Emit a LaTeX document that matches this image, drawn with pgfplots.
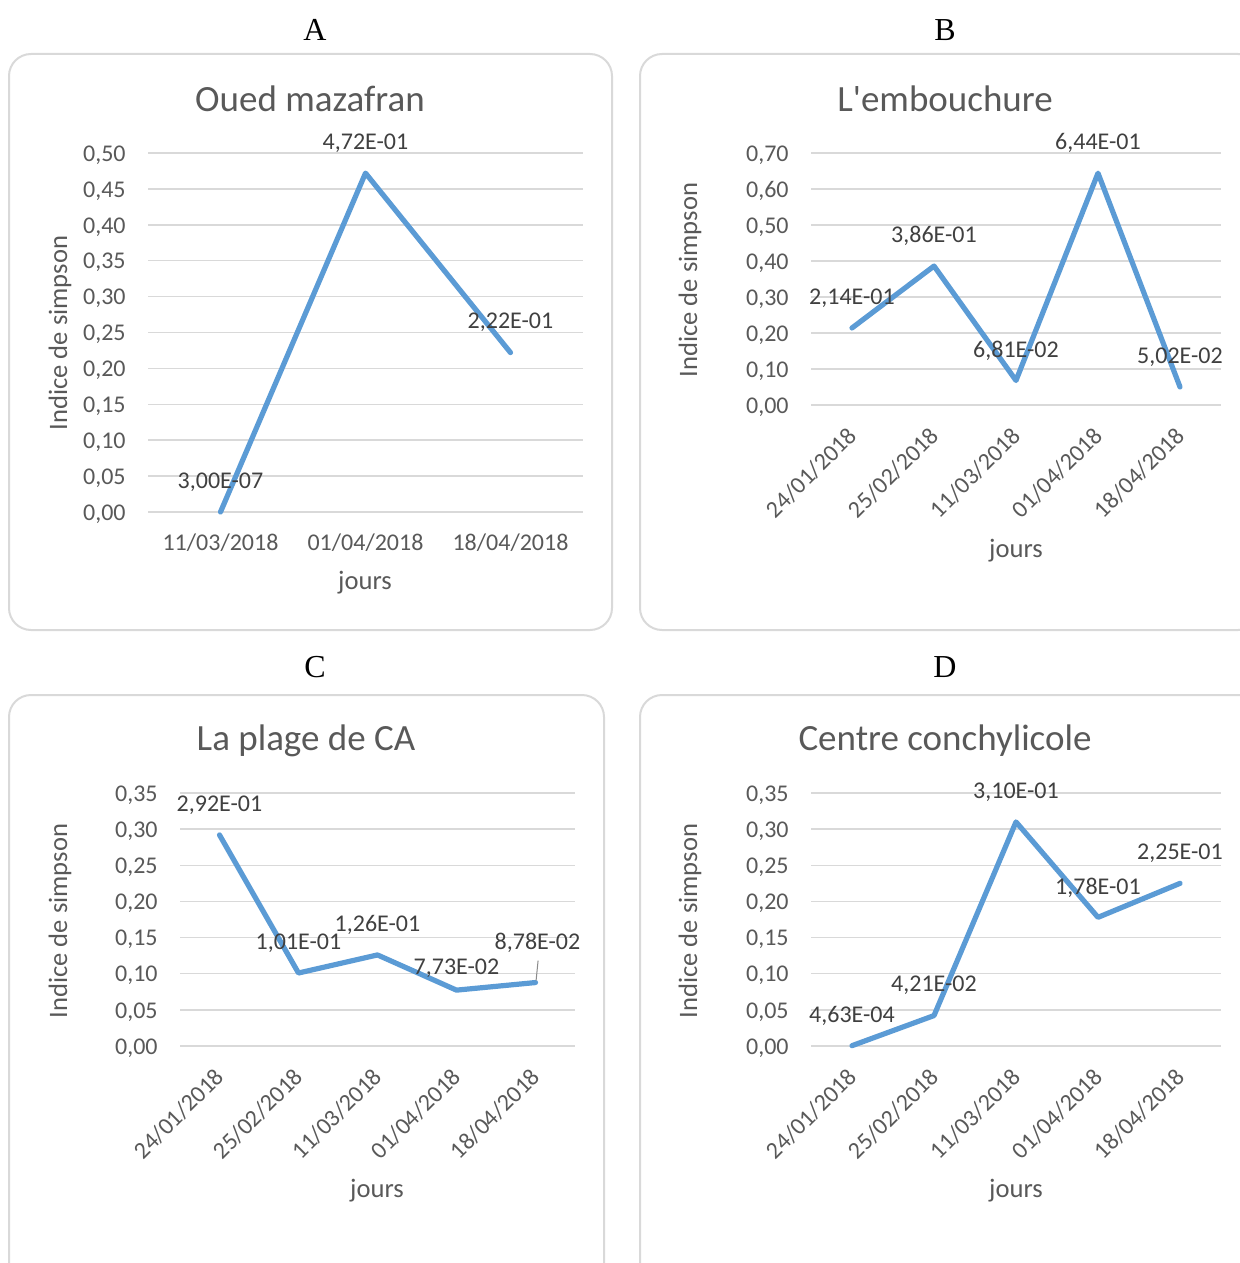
\documentclass[border=0pt]{standalone}
\usepackage{pgfplots}
\pgfplotsset{compat=1.18}
\usepackage{fontspec}
\setmainfont{Carlito}
\newfontfamily\serif{Liberation Serif}

\definecolor{txt}{HTML}{595959}
\definecolor{lbl}{HTML}{404040}
\definecolor{grd}{HTML}{D9D9D9}
\definecolor{ln}{HTML}{5B9BD5}

\pgfplotsset{
  panel/.style={
    scale only axis, anchor=south west,
    axis line style={draw=none},
    major tick length=0pt,
    ymajorgrids, major grid style={grd, line width=0.75pt},
    ticklabel style={font=\fontsize{12}{14}\selectfont, text=txt},
    /pgf/number format/assume math mode=true,
    yticklabel style={anchor=east, inner sep=0pt, xshift=-11pt, yshift=-1pt,
      /pgf/number format/.cd, fixed, fixed zerofill, precision=2, use comma},
    ymin=0, xmin=-0.5, clip=false,
  },
  flat/.style={xticklabel style={anchor=base, inner sep=0pt, yshift=-19pt}},
  % les decalages sont dans le repere tourne
  slanted/.style={xticklabel style={rotate=45, anchor=north east, inner sep=0pt, xshift=-9.2pt, yshift=-5pt}},
  serie/.style={ln, line width=2.6pt, line join=round, line cap=round},
}
\tikzset{
  dl/.style={font=\fontsize{12}{14}\selectfont, text=lbl, inner sep=0pt, yshift=15pt},
  ttl/.style={font=\fontsize{18.5}{22}\selectfont, text=txt},
  ax/.style={font=\fontsize{13.3}{16}\selectfont, text=txt},
  let/.style={font=\serif\fontsize{16}{18}\selectfont},
  box/.style={grd, line width=1pt, rounded corners=11pt},
}

\begin{document}
\begin{tikzpicture}[x=0.5pt, y=-0.5pt]
\useasboundingbox (0,0) rectangle (1240,1263);
\clip (0,0) rectangle (1240,1263);

% cadres
\draw[box] (9,54) rectangle (612,630);
\draw[box] (640,54) rectangle (1260,630);
\draw[box] (9,695) rectangle (604,1290);
\draw[box] (640,695) rectangle (1260,1290);

% lettres
\node[let] at (315,30) {A};
\node[let] at (945,30) {B};
\node[let] at (315,667) {C};
\node[let] at (945,667) {D};

% titres
\node[ttl] at (310,99) {Oued mazafran};
\node[ttl] at (945,99) {L\textquotesingle embouchure};
\node[ttl] at (306,741) {La plage de CA};
\node[ttl] at (945,741) {Centre conchylicole};

% titres des axes
\node[ax] at (365,583) {jours};
\node[ax] at (1016,551) {jours};
\node[ax] at (377,1191) {jours};
\node[ax] at (1016,1191) {jours};
\node[ax, rotate=90] at (60,333) {Indice de simpson};
\node[ax, rotate=90] at (690,280) {Indice de simpson};
\node[ax, rotate=90] at (60,921) {Indice de simpson};
\node[ax, rotate=90] at (690,921) {Indice de simpson};

% A
\begin{axis}[panel, flat, at={(74pt,-256pt)}, width=217.5pt, height=179.5pt,
  xmax=2.5, ymax=0.5, ytick={0,0.05,...,0.5},
  xtick={0,1,2}, xticklabels={11/03/2018,01/04/2018,18/04/2018}]
\addplot[serie] coordinates {(0,3.00e-7) (1,0.472) (2,0.222)};
\node[dl] at (axis cs:0,3.00e-7) {3,00E-07};
\node[dl] at (axis cs:1,0.472) {4,72E-01};
\node[dl] at (axis cs:2,0.222) {2,22E-01};
\end{axis}

% B
\begin{axis}[panel, slanted, at={(405.5pt,-202.5pt)}, width=205pt, height=126pt,
  xmax=4.5, ymax=0.7, ytick={0,0.1,...,0.7},
  xtick={0,...,4}, xticklabels={24/01/2018,25/02/2018,11/03/2018,01/04/2018,18/04/2018}]
\addplot[serie] coordinates {(0,0.214) (1,0.386) (2,0.0681) (3,0.644) (4,0.0502)};
\node[dl] at (axis cs:0,0.214) {2,14E-01};
\node[dl] at (axis cs:1,0.386) {3,86E-01};
\node[dl] at (axis cs:2,0.0681) {6,81E-02};
\node[dl] at (axis cs:3,0.644) {6,44E-01};
\node[dl] at (axis cs:4,0.0502) {5,02E-02};
\end{axis}

% C
\begin{axis}[panel, slanted, at={(90pt,-523pt)}, width=197.5pt, height=126.5pt,
  xmax=4.5, ymax=0.35, ytick={0,0.05,...,0.35},
  xtick={0,...,4}, xticklabels={24/01/2018,25/02/2018,11/03/2018,01/04/2018,18/04/2018}]
\addplot[serie] coordinates {(0,0.292) (1,0.101) (2,0.126) (3,0.0773) (4,0.0878)};
\node[dl] at (axis cs:0,0.292) {2,92E-01};
\node[dl] at (axis cs:1,0.101) {1,01E-01};
\node[dl] at (axis cs:2,0.126) {1,26E-01};
\node[dl, yshift=-4pt] at (axis cs:3,0.0773) {7,73E-02};
\node[dl, yshift=5pt, xshift=1pt] at (axis cs:4,0.0878) {8,78E-02};
\draw[txt!70, line width=0.5pt] ([xshift=0.3pt, yshift=1pt]axis cs:4,0.0878) -- ([xshift=1.3pt, yshift=11pt]axis cs:4,0.0878);
\end{axis}

% D
\begin{axis}[panel, slanted, at={(405.5pt,-523pt)}, width=205pt, height=126.5pt,
  xmax=4.5, ymax=0.35, ytick={0,0.05,...,0.35},
  xtick={0,...,4}, xticklabels={24/01/2018,25/02/2018,11/03/2018,01/04/2018,18/04/2018}]
\addplot[serie] coordinates {(0,4.63e-4) (1,0.0421) (2,0.310) (3,0.178) (4,0.225)};
\node[dl] at (axis cs:0,4.63e-4) {4,63E-04};
\node[dl] at (axis cs:1,0.0421) {4,21E-02};
\node[dl] at (axis cs:2,0.310) {3,10E-01};
\node[dl] at (axis cs:3,0.178) {1,78E-01};
\node[dl] at (axis cs:4,0.225) {2,25E-01};
\end{axis}
\end{tikzpicture}
\end{document}
